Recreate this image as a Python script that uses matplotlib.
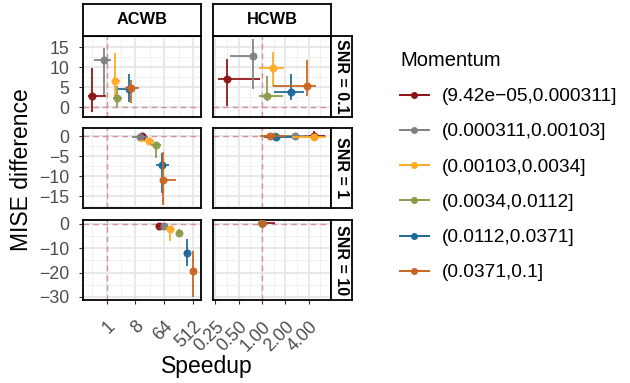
import matplotlib.pyplot as plt
from matplotlib.lines import Line2D
from matplotlib.ticker import FixedLocator, NullFormatter

plt.rcParams['font.family'] = ['Liberation Sans', 'DejaVu Sans']

momentum = ['(9.42e\u221205,0.000311]', '(0.000311,0.00103]', '(0.00103,0.0034]',
            '(0.0034,0.0112]', '(0.0112,0.0371]', '(0.0371,0.1]']
colors = ['#8E1212', '#808080', '#FFAA22', '#8C9A4B', '#1D6996', '#C9651F']
methods = ['ACWB', 'HCWB']
snr_labels = ['SNR = 0.1', 'SNR = 1', 'SNR = 10']

# rows: SNR 0.1, 1, 10 ; columns inside: momentum bins
acwb_speed = [[0.36, 0.84, 1.82, 2.04, 5.03, 5.94],
              [13.1, 10.8, 21.1, 35.5, 54.6, 59.7],
              [44.9, 64, 97, 189, 315, 512]]
acwb_speed_lo = [[0.27, 0.41, 1.49, 1.60, 2.30, 3.73],
                 [9.58, 6.41, 10.8, 23.8, 33.8, 45.3],
                 [35.5, 48.5, 78.2, 155, 269, 434]]
acwb_speed_hi = [[0.95, 1.37, 2.58, 3.03, 6.73, 10.6],
                 [17.4, 19.6, 29.4, 50.9, 92.4, 147],
                 [54.6, 81.6, 125, 228, 385, 622]]
acwb_mise = [[2.9, 11.7, 6.7, 2.3, 4.7, 4.8],
             [0.0, -0.25, -1.1, -2.25, -7.2, -10.8],
             [-0.7, -0.7, -2.0, -3.8, -12.0, -19.3]]
acwb_mise_lo = [[-1.25, 3.2, 2.75, 0.1, 1.35, 1.1],
                [-0.3, -0.5, -1.8, -5.4, -14.2, -17.1],
                [-0.9, -2.7, -7.2, -5.4, -17.4, -29.9]]
acwb_mise_hi = [[9.8, 14.7, 13.6, 5.25, 8.4, 6.9],
                [0.6, 0.1, -0.4, -1.4, -4.2, -3.9],
                [-0.4, 0.3, -0.7, -2.0, -6.1, -11.2]]

hcwb_speed = [[0.351, 0.753, 1.385, 1.157, 2.33, 3.81],
              [4.6, 2.68, 4.6, 1.45, 1.53, 1.26],
              [1.0, 1.0, 1.0, 1.0, 1.0, 1.0]]
hcwb_speed_lo = [[0.274, 0.387, 0.914, 0.907, 1.424, 1.385],
                 [3.48, 1.74, 2.3, 1.07, 1.07, 0.93],
                 [1.0, 1.0, 1.0, 1.0, 1.0, 1.0]]
hcwb_speed_hi = [[0.933, 0.847, 1.892, 1.866, 3.458, 4.89],
                 [6.5, 4.0, 6.68, 2.3, 2.46, 2.0],
                 [1.45, 1.0, 1.0, 1.0, 1.0, 1.0]]
hcwb_mise = [[7.2, 12.75, 9.7, 2.75, 3.85, 5.25],
             [0.1, 0.0, -0.1, 0.0, -0.1, 0.0],
             [0.2, 0.2, 0.2, 0.2, 0.2, 0.2]]
hcwb_mise_lo = [[0.4, 4.6, 5.25, 1.7, 1.9, 2.75],
                [-0.8, -0.2, -0.4, -0.2, -0.4, -0.3],
                [0.2, 0.2, 0.2, 0.2, 0.2, 0.2]]
hcwb_mise_hi = [[12.1, 17.1, 13.8, 7.75, 8.3, 11.7],
                [1.4, 0.2, 0.4, 0.2, 0.2, 0.3],
                [0.2, 0.2, 0.2, 0.2, 0.2, 0.2]]

acwb_ticks = [1, 8, 64, 512]
acwb_ticklabels = ['1', '8', '64', '512']
hcwb_ticks = [0.25, 0.5, 1, 2, 4]
hcwb_ticklabels = ['0.25', '0.50', '1.00', '2.00', '4.00']
y_ticks = [[0, 5, 10, 15], [-15, -10, -5, 0], [-30, -20, -10, 0]]

W, H = 630, 383
fig = plt.figure(figsize=(W / 100, H / 100), dpi=100)


def box(x0, x1, y0, y1):
    return [x0 / W, 1 - y1 / H, (x1 - x0) / W, (y1 - y0) / H]


col_px = [(83, 201), (213, 331)]
row_px = [(36, 117), (128, 208), (220, 300)]
xlims = [(2 ** -2.45, 2 ** 9.8), (2 ** -2.1, 2 ** 2.95)]
ylims = [(-2.4, 17.8), (-17.9, 2.1), (-31.3, 1.6)]
x_minor = [[2 ** -1.5, 2 ** 1.5, 2 ** 4.5, 2 ** 7.5],
           [2 ** -1.5, 2 ** -0.5, 2 ** 0.5, 2 ** 1.5, 2 ** 2.5]]
y_minor = [[-2.5, 2.5, 7.5, 12.5, 17.5], [-17.5, -12.5, -7.5, -2.5], [-25, -15, -5]]

data = {
    'ACWB': (acwb_speed, acwb_speed_lo, acwb_speed_hi, acwb_mise, acwb_mise_lo, acwb_mise_hi),
    'HCWB': (hcwb_speed, hcwb_speed_lo, hcwb_speed_hi, hcwb_mise, hcwb_mise_lo, hcwb_mise_hi),
}

for c, method in enumerate(methods):
    sp, sp_lo, sp_hi, mi, mi_lo, mi_hi = data[method]
    for r in range(3):
        ax = fig.add_axes(box(col_px[c][0], col_px[c][1], row_px[r][0], row_px[r][1]))
        ax.set_xscale('log', base=2)
        ax.set_xlim(*xlims[c])
        ax.set_ylim(*ylims[r])
        ax.xaxis.set_major_locator(FixedLocator(acwb_ticks if c == 0 else hcwb_ticks))
        ax.xaxis.set_minor_locator(FixedLocator(x_minor[c]))
        ax.xaxis.set_minor_formatter(NullFormatter())
        ax.yaxis.set_major_locator(FixedLocator(y_ticks[r]))
        ax.yaxis.set_minor_locator(FixedLocator(y_minor[r]))
        ax.set_axisbelow(True)
        ax.grid(which='major', color='#E6E6E6', lw=1.3)
        ax.grid(which='minor', color='#F0F0F0', lw=0.7)
        for s in ax.spines.values():
            s.set_color('black')
            s.set_linewidth(1.3)
        ax.tick_params(which='minor', length=0)
        ax.tick_params(which='major', length=3, width=0.8, color='#333333',
                       labelsize=12.8, labelcolor='#4D4D4D')
        ax.tick_params(axis='y', pad=7)
        ax.tick_params(axis='x', pad=10)
        # reference lines at zero difference and speedup 1
        ax.axhline(0, color='#D68F99', lw=1.0, ls=(0, (4, 3)), zorder=2)
        ax.axvline(1, color='#D68F99', lw=1.0, ls=(0, (4, 3)), zorder=2)

        for i in range(6):
            x, y = sp[r][i], mi[r][i]
            ax.errorbar([x], [y],
                        xerr=[[x - sp_lo[r][i]], [sp_hi[r][i] - x]],
                        yerr=[[y - mi_lo[r][i]], [mi_hi[r][i] - y]],
                        fmt='o', color=colors[i], ms=4.8, lw=1.4, capsize=0,
                        alpha=0.9, zorder=3 + i)

        if r == 2:
            ax.set_xticklabels(acwb_ticklabels if c == 0 else hcwb_ticklabels,
                               rotation=45, ha='right', va='top', rotation_mode='anchor')
        else:
            ax.tick_params(axis='x', labelbottom=False, bottom=False)
        if c == 0:
            ax.set_yticklabels([f'{v:g}'.replace('-', '\u2212') for v in y_ticks[r]])
        else:
            ax.tick_params(axis='y', labelleft=False, left=False)

# facet strips
for c, method in enumerate(methods):
    sax = fig.add_axes(box(col_px[c][0], col_px[c][1], 4, 36))
    sax.set_xticks([])
    sax.set_yticks([])
    for s in sax.spines.values():
        s.set_linewidth(1.3)
    sax.text(0.5, 0.5, method, ha='center', va='center', fontsize=11.8,
             fontweight='bold', transform=sax.transAxes)
for r, lab in enumerate(snr_labels):
    sax = fig.add_axes(box(331, 352, row_px[r][0], row_px[r][1]))
    sax.set_xticks([])
    sax.set_yticks([])
    for s in sax.spines.values():
        s.set_linewidth(1.3)
    sax.text(0.5, 0.5, lab, ha='center', va='center', fontsize=11.5, rotation=-90,
             fontweight='bold', transform=sax.transAxes)

fig.text(22 / W, 1 - 170 / H, 'MISE difference', rotation=90, ha='center',
         va='center', fontsize=16.5)
fig.text(207 / W, 1 - 367 / H, 'Speedup', ha='center', va='center', fontsize=16.5)

handles = [Line2D([0], [0], color=col, lw=1.4, marker='o', ms=4) for col in colors]
fig.legend(handles, momentum, loc='upper left', bbox_to_anchor=(400 / W, 1 - 51 / H),
           frameon=False, title='Momentum', alignment='left', fontsize=13.8,
           title_fontsize=14.5, handlelength=1.5, handletextpad=0.7,
           labelspacing=0.93, borderpad=0, borderaxespad=0)

fig.savefig('out.png', dpi=100)
